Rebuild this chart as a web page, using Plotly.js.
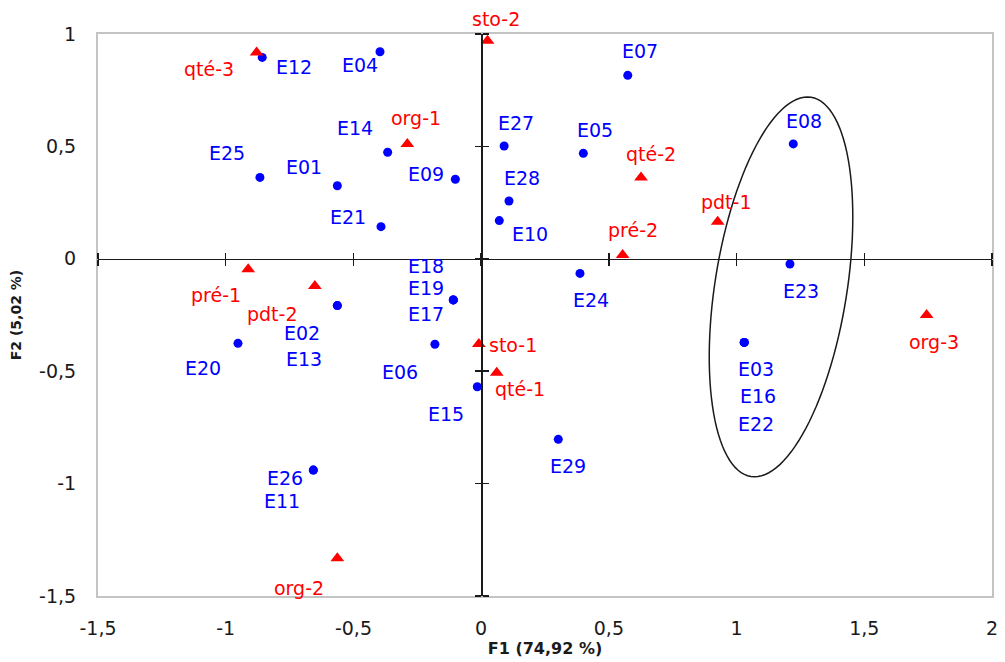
<!DOCTYPE html>
<html>
<head>
<meta charset="utf-8">
<script src="https://cdn.plot.ly/plotly-3.0.1.min.js"></script>
<style>html,body{margin:0;padding:0;background:#fff;}#chart{width:1005px;height:662px;}</style>
</head>
<body>
<div id="chart"></div>
<script>
// ---- Data: observations (blue) ----
const obsNames = ["E01","E02","E03","E04","E05","E06","E07","E08","E09","E10","E11","E12","E13","E14","E15","E16","E17","E18","E19","E20","E21","E22","E23","E24","E25","E26","E27","E28","E29"];
const obsF1 = [-0.563,-0.563,1.030,-0.396,0.400,-0.181,0.574,1.222,-0.101,0.071,-0.657,-0.857,-0.563,-0.366,-0.015,1.030,-0.109,-0.109,-0.109,-0.952,-0.392,1.030,1.209,0.387,-0.866,-0.657,0.090,0.109,0.302];
const obsF2 = [0.325,-0.208,-0.372,0.921,0.469,-0.380,0.816,0.511,0.354,0.170,-0.940,0.896,-0.208,0.474,-0.569,-0.372,-0.183,-0.183,-0.183,-0.376,0.143,-0.372,-0.023,-0.065,0.362,-0.940,0.502,0.257,-0.803];

// ---- Data: modalities (red) ----
const modNames = ["qté-1","qté-2","qté-3","sto-1","sto-2","org-1","org-2","org-3","pré-1","pré-2","pdt-1","pdt-2"];
const modF1 = [0.061,0.626,-0.879,-0.009,0.025,-0.289,-0.563,1.744,-0.912,0.554,0.926,-0.651];
const modF2 = [-0.507,0.362,0.918,-0.379,0.970,0.511,-1.332,-0.250,-0.047,0.017,0.165,-0.121];

// ---- Tick labels ----
const xTickVals = [-1.5,-1,-0.5,0,0.5,1,1.5,2];
const xTickText = ["-1,5","-1","-0,5","0","0,5","1","1,5","2"];
const yTickVals = [-1.5,-1,-0.5,0,0.5,1];
const yTickText = ["-1,5","-1","-0,5","0","0,5","1"];
const xTitle = "F1 (74,92 %)";
const yTitle = "F2 (5,02 %)";

// ---- Label placement (pixel offsets: dx right, dy down) ----
const obsLabelDx = [-33,-35,12,-20,12,-35,12,11,-29,31,-31,32,-33,-33,-31,14,-27,-27,-27,-35,-33,12,11,11,-33,-28,12,13,10];
const obsLabelDy = [-19,27,27,13,-23,28,-24,-23,-5,13,31,10,53,-24,27,54,14,-34,-12,25,-10,82,27,27,-24,8,-23,-23,27];
const modLabelDx = [23,10,-48,34,8,9,-38,7,-32,10,9,-42];
const modLabelDy = [16,-23,17,1,-22,-26,30,27,26,-25,-20,28];

// ---- Ellipse (pixel geometry) ----
const ellCenter = [1.174,-0.125];
const ellSemiMajorPx = 192, ellSemiMinorPx = 66, ellTiltDeg = 9;

const xRange = [-1.5,2], yRange = [-1.5,1];
const W = 1005, H = 662;
const margin = {l:98, r:13, t:34, b:66};
const plotW = W - margin.l - margin.r, plotH = H - margin.t - margin.b;
const pxX = plotW/(xRange[1]-xRange[0]), pxY = plotH/(yRange[1]-yRange[0]);

let ellPath = "";
const th = ellTiltDeg*Math.PI/180;
for (let i=0;i<=120;i++){
  const t = i/120*2*Math.PI;
  const a = ellSemiMajorPx*Math.cos(t), b = ellSemiMinorPx*Math.sin(t);
  const px = a*Math.sin(th) + b*Math.cos(th);
  const py = -a*Math.cos(th) + b*Math.sin(th);
  const x = ellCenter[0] + px/pxX, y = ellCenter[1] - py/pxY;
  ellPath += (i===0?"M":"L") + x.toFixed(4) + "," + y.toFixed(4) + " ";
}
ellPath += "Z";

const labelFont = "DejaVu Sans";
const blue = "#0000ff", red = "#ff0000";

const traces = [
  {x: obsF1, y: obsF2, mode:"markers", type:"scatter", name:"Observations",
   marker:{symbol:"circle", size:9, color:blue}, hoverinfo:"text", text: obsNames, showlegend:false},
  {x: modF1, y: modF2, mode:"markers", type:"scatter", name:"Modalités",
   marker:{symbol:"triangle-up", size:12, color:red}, hoverinfo:"text", text: modNames, showlegend:false},
  {x: obsF1, y: obsF2, xaxis:"x2", yaxis:"y2", mode:"markers", marker:{opacity:0}, hoverinfo:"skip", showlegend:false},
  {x: obsF1, y: obsF2, xaxis:"x3", yaxis:"y3", mode:"markers", marker:{opacity:0}, hoverinfo:"skip", showlegend:false}
];

const annotations = [];
obsNames.forEach((n,i)=>annotations.push({x:obsF1[i], y:obsF2[i], text:n, showarrow:false,
  xanchor:"center", yanchor:"middle", xshift:obsLabelDx[i], yshift:-obsLabelDy[i],
  font:{family:labelFont, size:19, color:blue}}));
modNames.forEach((n,i)=>annotations.push({x:modF1[i], y:modF2[i], text:n, showarrow:false,
  xanchor:"center", yanchor:"middle", xshift:modLabelDx[i], yshift:-modLabelDy[i],
  font:{family:labelFont, size:19, color:red}}));

const yZeroFrac = (0 - yRange[0])/(yRange[1]-yRange[0]);
const xZeroFrac = (0 - xRange[0])/(xRange[1]-xRange[0]);
const zeroAxisCommon = {showgrid:false, zeroline:false, showticklabels:false, showline:true,
  linecolor:"#1a1a1a", linewidth:1.5, ticks:"outside", ticklen:6, tickwidth:1.5, tickcolor:"#1a1a1a", anchor:"free"};

const layout = {
  width:W, height:H, margin:margin, paper_bgcolor:"#fff", plot_bgcolor:"#fff",
  font:{family:labelFont, color:"#1a1a1a"},
  xaxis:{range:xRange, tickvals:xTickVals, ticktext:xTickText, showgrid:false, zeroline:false,
    showline:true, mirror:true, linecolor:"#c4c4c4", linewidth:2,
    ticks:"outside", ticklen:14, tickcolor:"rgba(0,0,0,0)",
    tickfont:{family:labelFont, size:19, color:"#1a1a1a"},
    title:{text:xTitle, font:{family:labelFont, size:16, color:"#1a1a1a", weight:"bold"}, standoff:2}},
  yaxis:{range:yRange, tickvals:yTickVals, ticktext:yTickText, showgrid:false, zeroline:false,
    showline:true, mirror:true, linecolor:"#c4c4c4", linewidth:2,
    ticks:"outside", ticklen:16, tickcolor:"rgba(0,0,0,0)",
    tickfont:{family:labelFont, size:19, color:"#1a1a1a"},
    title:{text:yTitle, font:{family:labelFont, size:14, color:"#1a1a1a", weight:"bold"}, standoff:14}},
  xaxis2:Object.assign({overlaying:"x", range:xRange, tickvals:xTickVals, side:"bottom", position:yZeroFrac}, zeroAxisCommon),
  xaxis3:Object.assign({overlaying:"x", range:xRange, tickvals:xTickVals, side:"top", position:yZeroFrac}, zeroAxisCommon),
  yaxis2:Object.assign({overlaying:"y", range:yRange, tickvals:yTickVals, side:"left", position:xZeroFrac}, zeroAxisCommon),
  yaxis3:Object.assign({overlaying:"y", range:yRange, tickvals:yTickVals, side:"right", position:xZeroFrac}, zeroAxisCommon),
  shapes:[{type:"path", xref:"x", yref:"y", path:ellPath, line:{color:"#1a1a1a", width:1.5}, fillcolor:"rgba(0,0,0,0)"}],
  annotations:annotations,
  showlegend:false
};

Plotly.newPlot("chart", traces, layout, {displayModeBar:false, staticPlot:true});
</script>
</body>
</html>
